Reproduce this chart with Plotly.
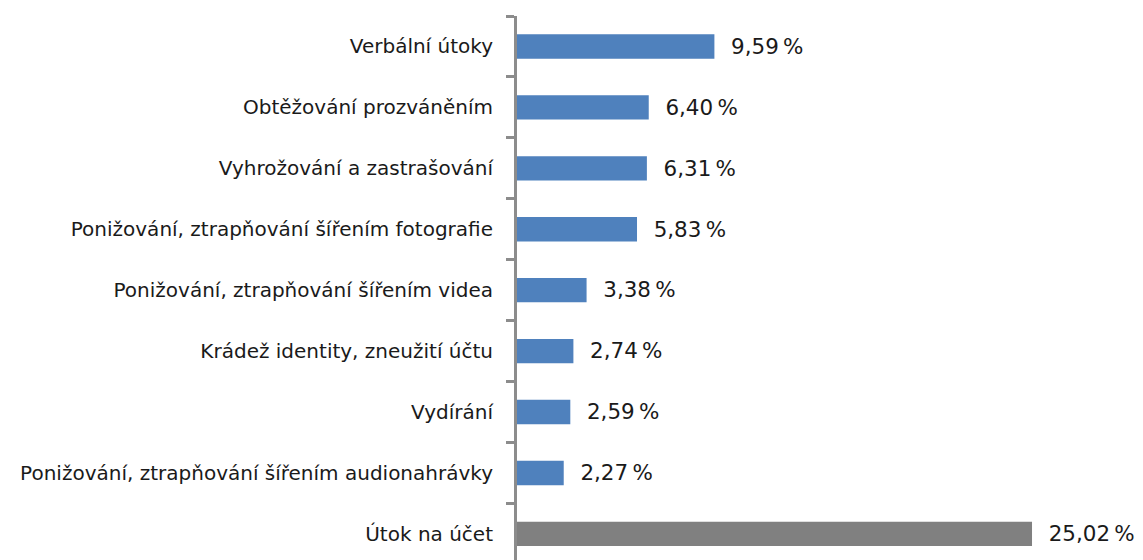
import plotly.graph_objects as go

categories = [
    "Verbální útoky",
    "Obtěžování prozváněním",
    "Vyhrožování a zastrašování",
    "Ponižování, ztrapňování šířením fotografie",
    "Ponižování, ztrapňování šířením videa",
    "Krádež identity, zneužití účtu",
    "Vydírání",
    "Ponižování, ztrapňování šířením audionahrávky",
    "Útok na účet",
]
values = [9.59, 6.40, 6.31, 5.83, 3.38, 2.74, 2.59, 2.27, 25.02]
labels = ["9,59\u2009%", "6,40\u2009%", "6,31\u2009%", "5,83\u2009%", "3,38\u2009%",
          "2,74\u2009%", "2,59\u2009%", "2,27\u2009%", "25,02\u2009%"]

colors = ["#4F81BD"] * 8 + ["#808080"]

fig = go.Figure(go.Bar(
    x=values,
    y=categories,
    orientation="h",
    marker=dict(color=colors, line=dict(width=0)),
    text=["  " + t for t in labels],
    textposition="outside",
    textfont=dict(family="DejaVu Sans", size=22, color="#1a1a1a"),
    cliponaxis=False,
    width=0.4,
))

fig.update_layout(
    width=1143, height=560,
    margin=dict(l=509, r=0, t=8, b=0),
    plot_bgcolor="white", paper_bgcolor="white",
    showlegend=False,
    font=dict(family="DejaVu Sans", size=20, color="#1a1a1a"),
    xaxis=dict(range=[0, 30.8], visible=False),
    yaxis=dict(
        type="category",
        range=[8.56, -0.5],
        showline=True, linecolor="#8C8C8C", linewidth=3,
        ticks="outside", tickson="boundaries", ticklen=8,
        tickcolor="#8C8C8C", tickwidth=3,
        ticklabelstandoff=17,
        showgrid=False,
    ),
)

fig.write_html("out.html")
